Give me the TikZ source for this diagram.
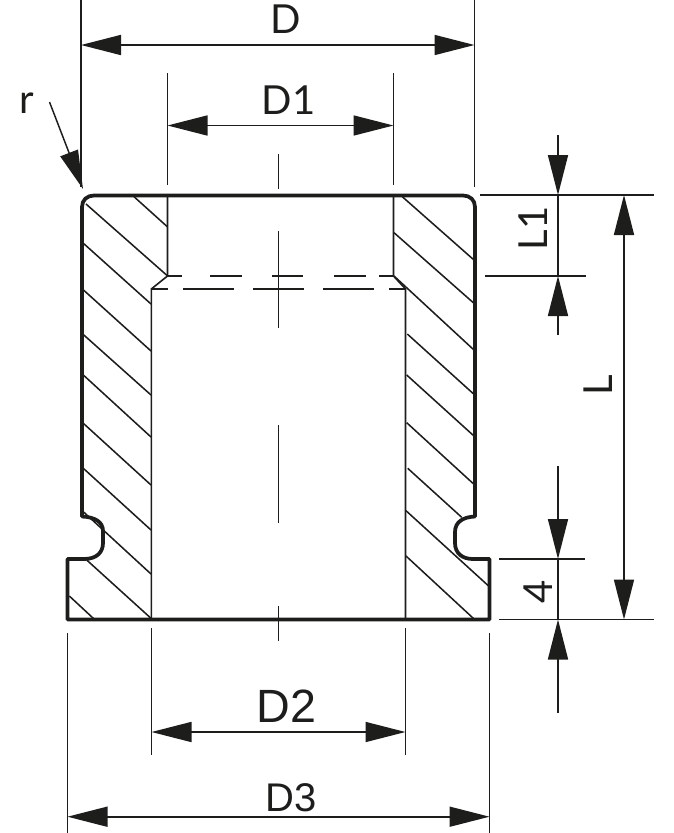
\documentclass[tikz,border=0pt]{standalone}
\usepackage{fontspec}
\setmainfont{Lato}
\newfontfamily\helv{Liberation Sans}
\usetikzlibrary{arrows.meta}
\definecolor{ink}{HTML}{1D1D1B}
\tikzset{
  outline/.style={draw=ink,line width=2.8pt,line join=round},
  thin line/.style={draw=ink,line width=1.2pt},
  hatch/.style={draw=ink,line width=1.15pt},
  bore/.style={draw=ink,line width=1.2pt},
  headtip/.tip={Triangle[length=30pt,width=15pt,color=ink,sep=0pt]},
  dimline/.style={draw=ink,line width=1.2pt,headtip-headtip},
  oneway/.style={draw=ink,line width=1.2pt,-headtip},
  rleader/.style={draw=ink,line width=1.1pt,-{Triangle[length=29pt,width=14pt,color=ink]}},
  lbl/.style={inner sep=0pt,anchor=base,text=ink,font=\fontsize{30}{30}\selectfont},
  lblH/.style={inner sep=0pt,anchor=base,text=ink,font=\helv\fontsize{30}{30}\selectfont},
}
\begin{document}
\begin{tikzpicture}[x=0.75pt,y=-0.75pt]
\useasboundingbox (0,0) rectangle (674,833);
% hatching, left
\draw[hatch] (134,196.7)--(167.3,226.7);
\draw[hatch] (86,204)--(167.3,275.7);
\draw[hatch] (82.7,242.7)--(151,304);
\draw[hatch] (82.7,289.3)--(151,351);
\draw[hatch] (82.7,334)--(151,395);
\draw[hatch] (83.3,375)--(151,437);
\draw[hatch] (83.3,423.3)--(151,485);
\draw[hatch] (83.3,468.3)--(151,530);
\draw[hatch] (83.3,511.7)--(151,574);
\draw[hatch] (86.7,560)--(151,618.3);
\draw[hatch] (69.3,596)--(93.3,618.3);
% hatching, right
\draw[hatch] (402.3,196.7)--(474,260);
\draw[hatch] (394,232.7)--(474,303.3);
\draw[hatch] (394,276)--(474,350);
\draw[hatch] (407.3,334)--(474,394.3);
\draw[hatch] (406.7,375)--(474,436);
\draw[hatch] (406.7,422.7)--(474,484.3);
\draw[hatch] (407.7,468.3)--(461.7,517.3);
\draw[hatch] (406,510.7)--(488.3,585.7);
\draw[hatch] (406,556)--(473.3,618.3);
% bore
\draw[bore] (167.5,196)--(167.5,276)--(151.3,289)--(151.3,619);
\draw[bore] (393.5,196)--(393.5,276)--(405.5,289)--(405.5,619);
% hidden edges
\foreach \p/\q in {167/182,210/242,272/303,334/366,379/393.5}{\draw[thin line] (\p,276)--(\q,276);}
\foreach \p/\q in {151/168,183/234,253/304,323/374,389/406}{\draw[thin line] (\p,289)--(\q,289);}
% centre line
\foreach \p/\q in {154/189,231/328,425/522.5,606/641}{\draw[thin line] (278.5,\p)--(278.5,\q);}
% outline
\path[outline] (67.5,619.5) -- (67.5,559) -- (84,559)
  .. controls (97,559) and (103,552) .. (103,543)
  .. controls (103,537) and (103,533) .. (103,531)
  .. controls (103,522) and (95,517) .. (82,516.5)
  -- (82,207) .. controls (82,200) and (87,195.5) .. (94,195.5)
  -- (463,195.5) .. controls (470,195.5) and (475,200) .. (475,207)
  -- (475,516.5) .. controls (463,517) and (455,522) .. (455,532)
  -- (455,543) .. controls (455,553) and (462,559) .. (473,559)
  -- (489.5,559) -- (489.5,619.5) -- cycle;
% extension lines
\coordinate (dL) at (81,0); \coordinate (dLb) at (81,187);
\coordinate (dR) at (474.5,0); \coordinate (dRb) at (474.5,187);
\draw[thin line] (dL)--(dLb); \draw[thin line] (dR)--(dRb);
\coordinate (d1L) at (167.5,73); \coordinate (d1Lb) at (167.5,185);
\coordinate (d1R) at (393.5,73); \coordinate (d1Rb) at (393.5,185);
\draw[thin line] (d1L)--(d1Lb); \draw[thin line] (d1R)--(d1Rb);
\coordinate (d2L) at (151.5,628); \coordinate (d2Lb) at (151.5,755);
\coordinate (d2R) at (405.5,628); \coordinate (d2Rb) at (405.5,755);
\draw[thin line] (d2L)--(d2Lb); \draw[thin line] (d2R)--(d2Rb);
\coordinate (d3L) at (67.5,633); \coordinate (d3Lb) at (67.5,833);
\coordinate (d3R) at (489.5,633); \coordinate (d3Rb) at (489.5,833);
\draw[thin line] (d3L)--(d3Lb); \draw[thin line] (d3R)--(d3Rb);
\coordinate (eTopA) at (480,195); \coordinate (eTopB) at (654,195);
\coordinate (eL1A) at (485,276); \coordinate (eL1B) at (586,276);
\coordinate (e4A) at (499,559); \coordinate (e4B) at (585,559);
\coordinate (eBotA) at (499,619.5); \coordinate (eBotB) at (654,619.5);
\draw[thin line] (eTopA)--(eTopB); \draw[thin line] (eL1A)--(eL1B);
\draw[thin line] (e4A)--(e4B); \draw[thin line] (eBotA)--(eBotB);
% dimension lines
\coordinate (D-a) at (81,45); \coordinate (D-b) at (474.5,45);
\draw[dimline] (D-a)--(D-b);
\coordinate (D1-a) at (167.5,125.5); \coordinate (D1-b) at (393.5,125.5);
\draw[dimline] (D1-a)--(D1-b);
\coordinate (D2-a) at (151.5,732); \coordinate (D2-b) at (405.5,732);
\draw[dimline] (D2-a)--(D2-b);
\coordinate (D3-a) at (67.5,816.7); \coordinate (D3-b) at (489.5,816.7);
\draw[dimline] (D3-a)--(D3-b);
\coordinate (L-a) at (624,195); \coordinate (L-b) at (624,619.5);
\draw[dimline] (L-a)--(L-b);
% outside arrows on x=558
\coordinate (L1-s) at (558,135); \coordinate (L1-t) at (558,195);
\coordinate (L1-u) at (558,335); \coordinate (L1-v) at (558,276);
\coordinate (F-s) at (558,466); \coordinate (F-t) at (558,559);
\coordinate (F-u) at (558,713); \coordinate (F-v) at (558,619.5);
\draw[oneway] (L1-s)--(L1-t);
\draw[thin line] (L1-t)--(L1-v);
\draw[oneway] (L1-u)--(L1-v);
\draw[oneway] (F-s)--(F-t);
\draw[thin line] (F-t)--(F-v);
\draw[oneway] (F-u)--(F-v);
% radius leader
\coordinate (r-s) at (49.5,102); \coordinate (r-t) at (83,189);
\draw[rleader] (r-s)--(r-t);
% labels
\node[lbl] (tD) at (285.5,33) {D};
\node[lbl] (tD1) at (288.5,114) {D1};
\node[lblH,font=\helv\fontsize{35}{35}\selectfont] (tD2) at (286.5,722) {D2};
\node[lblH] (tD3) at (291,811) {D3};
\node[lbl] (tr) at (26.5,113) {r};
\node[lbl,rotate=90] (tL1) at (547,228.5) {L1};
\node[lbl,rotate=90] (tL) at (612,385.5) {L};
\node[lbl,rotate=90] (t4) at (552,592) {4};
\end{tikzpicture}
\end{document}
